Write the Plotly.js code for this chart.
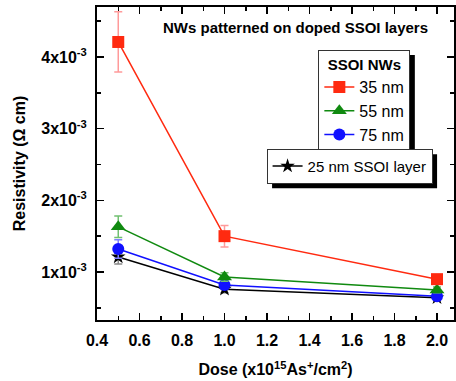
<!DOCTYPE html>
<html>
<head>
<meta charset="utf-8">
<script src="https://cdn.plot.ly/plotly-3.0.1.min.js"></script>
<style>html,body{margin:0;padding:0;background:#fff;}#chart{width:456px;height:381px;}</style>
</head>
<body>
<div id="chart"></div>
<script>
// ---- data ----
const dose = [0.5, 1.0, 2.0];
const res35 = [4.21e-3, 1.50e-3, 0.90e-3];
const err35 = [0.42e-3, 0.15e-3, 0.05e-3];
const res55 = [1.63e-3, 0.93e-3, 0.75e-3];
const err55 = [0.15e-3, 0.06e-3, 0.04e-3];
const res75 = [1.32e-3, 0.82e-3, 0.66e-3];
const err75 = [0.13e-3, 0.05e-3, 0.04e-3];
const res25 = [1.21e-3, 0.76e-3, 0.64e-3];
const err25 = [0.10e-3, 0.05e-3, 0.03e-3];
const xTickVals = [0.4, 0.6, 0.8, 1.0, 1.2, 1.4, 1.6, 1.8, 2.0];
const xTickText = ['0.4', '0.6', '0.8', '1.0', '1.2', '1.4', '1.6', '1.8', '2.0'];
const yTickVals = [1e-3, 2e-3, 3e-3, 4e-3];
const yTickText = ['1x10<sup>-3</sup>', '2x10<sup>-3</sup>', '3x10<sup>-3</sup>', '4x10<sup>-3</sup>'];

const FONT = 'Liberation Sans, Arial, sans-serif';
const bold = function (arr) { return arr.map(function (t) { return '<b>' + t + '</b>'; }); };

function tr(y, e, name, color, ecolor, symbol, size, legend) {
  return {
    x: dose, y: y, name: name, type: 'scatter', mode: 'lines+markers',
    line: {color: color, width: 1.5},
    marker: {color: color, symbol: symbol, size: size},
    error_y: {type: 'data', array: e, visible: true, color: ecolor, thickness: 1.5, width: 4},
    legend: legend
  };
}

const data = [
  tr(res25, err25, '25 nm SSOI layer', '#000000', '#888888', 'star', 11, 'legend2'),
  tr(res75, err75, '75 nm', '#1010ff', '#8080ff', 'circle', 12, 'legend'),
  tr(res55, err55, '55 nm', '#108a10', '#70c070', 'triangle-up', 13, 'legend'),
  tr(res35, err35, '35 nm', '#ff2a10', '#ff9a9a', 'square', 12, 'legend')
];

const axisCommon = {
  showline: true, linecolor: '#000', linewidth: 2, mirror: 'allticks',
  ticks: 'inside', ticklen: 7, tickwidth: 1.5, tickcolor: '#000',
  showgrid: false, zeroline: false, tickmode: 'array',
  tickfont: {family: FONT, size: 16, color: '#000'}
};

const layout = {
  width: 456, height: 381,
  margin: {l: 97, r: 2, t: 7, b: 61},
  paper_bgcolor: '#fff', plot_bgcolor: '#fff',
  font: {family: FONT, color: '#000'},
  xaxis: Object.assign({}, axisCommon, {
    range: [0.4, 2.08], tickvals: xTickVals, ticktext: bold(xTickText), ticklabelstandoff: 5,
    minor: {tickmode: 'linear', dtick: 0.1, tick0: 0.4, ticks: 'inside', ticklen: 4, tickwidth: 1.5, tickcolor: '#000'},
    title: {text: '<b>Dose (x10<sup>15</sup>As<sup>+</sup>/cm<sup>2</sup>)</b>', font: {family: FONT, size: 16, color: '#000'}, standoff: 16}
  }),
  yaxis: Object.assign({}, axisCommon, {
    range: [0.33e-3, 4.698e-3], tickvals: yTickVals, ticktext: bold(yTickText), ticklabelstandoff: 5,
    minor: {tickmode: 'linear', tick0: 0, dtick: 0.5e-3, ticks: 'inside', ticklen: 4, tickwidth: 1.5, tickcolor: '#000'},
    title: {text: '<b>Resistivity (Ω cm)</b>', font: {family: FONT, size: 16, color: '#000'}, standoff: 12}
  }),
  showlegend: true,
  legend: {
    x: 0.62, y: 0.864, xanchor: 'left', yanchor: 'top',
    bgcolor: '#fff', bordercolor: '#333', borderwidth: 1,
    font: {family: FONT, size: 16, color: '#000'},
    title: {text: '<b>SSOI NWs</b>', side: 'top center', font: {family: FONT, size: 15, color: '#000'}},
    traceorder: 'reversed', tracegroupgap: 0, itemwidth: 30
  },
  legend2: {
    x: 0.475, y: 0.547, xanchor: 'left', yanchor: 'top',
    bgcolor: '#fff', bordercolor: '#333', borderwidth: 1,
    font: {family: FONT, size: 15, color: '#000'}, itemwidth: 30
  },
  annotations: [{
    xref: 'paper', yref: 'paper', x: 0.555, y: 0.933, xanchor: 'center', yanchor: 'middle',
    text: '<b>NWs patterned on doped SSOI layers</b>', showarrow: false,
    font: {family: FONT, size: 15, color: '#000'}
  }]
};

Plotly.newPlot('chart', data, layout, {displayModeBar: false, staticPlot: true}).then(function (gd) {
  // drop shadows behind the legend boxes
  const fl = gd._fullLayout;
  const plotL = fl._size.l, plotT = fl._size.t, pw = fl._size.w, ph = fl._size.h;
  const root = gd.getBoundingClientRect();
  const shapes = [];
  ['legend', 'legend2'].forEach(function (cls) {
    const r = gd.querySelector('g.' + cls + ' rect.bg');
    if (!r) return;
    const b = r.getBoundingClientRect();
    const off = 5;
    const x0 = b.left - root.left + off, x1 = b.right - root.left + off;
    const y0 = b.top - root.top + off, y1 = b.bottom - root.top + off;
    shapes.push({
      type: 'rect', xref: 'paper', yref: 'paper', layer: 'above',
      x0: (x0 - plotL) / pw, x1: (x1 - plotL) / pw,
      y0: 1 - (y0 - plotT) / ph, y1: 1 - (y1 - plotT) / ph,
      fillcolor: '#000', line: {width: 0}
    });
  });
  return Plotly.relayout(gd, {shapes: shapes});
});
</script>
</body>
</html>
